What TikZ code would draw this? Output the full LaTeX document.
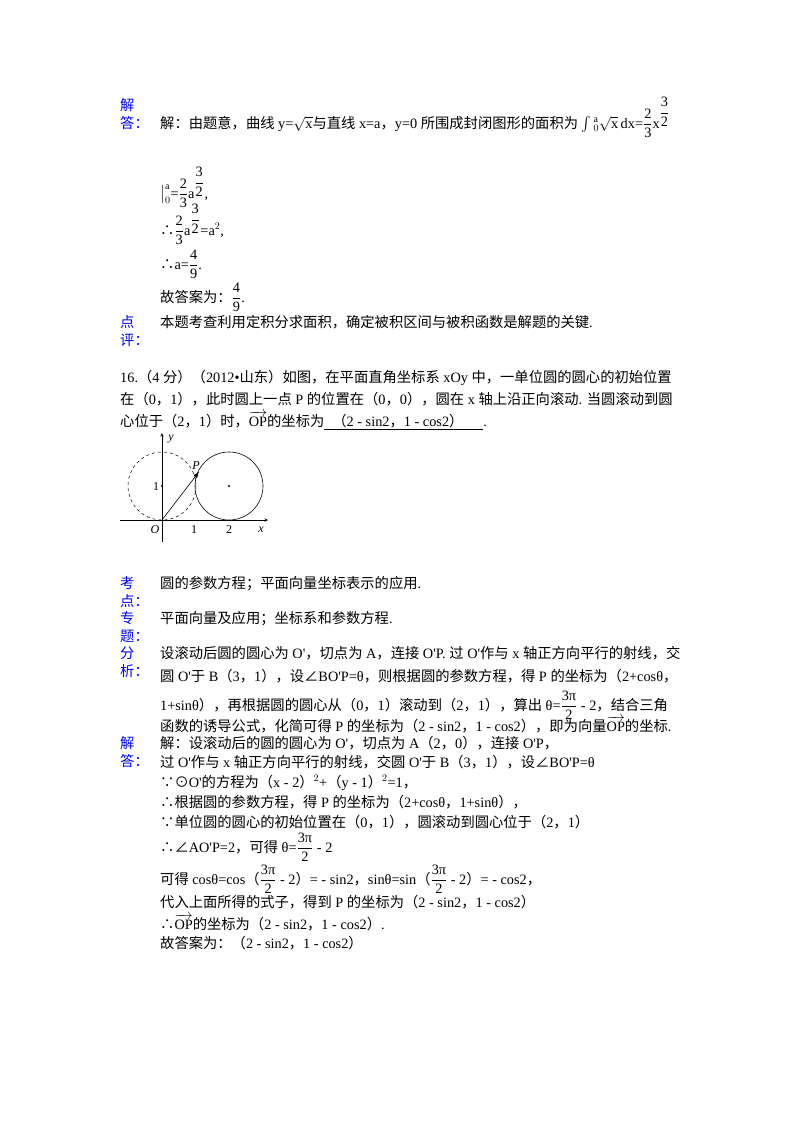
\documentclass[tikz,border=0pt]{standalone}
\usepackage{amsmath}
\usepackage{fontspec}
\usetikzlibrary{arrows.meta}
\setmainfont{Liberation Serif}
\newfontfamily\cjkf{Noto Sans CJK SC}
\newfontfamily\latf{Liberation Serif}
\newXeTeXintercharclass\cjkcls
\makeatletter
\count@="4E00
\loop\XeTeXcharclass\count@=\cjkcls\advance\count@ 1 \ifnum\count@<"A000 \repeat
\count@="3000
\loop\XeTeXcharclass\count@=\cjkcls\advance\count@ 1 \ifnum\count@<"3040 \repeat
\count@="FF00
\loop\XeTeXcharclass\count@=\cjkcls\advance\count@ 1 \ifnum\count@<"FFF0 \repeat
\makeatother
\XeTeXcharclass"2234=\cjkcls
\XeTeXcharclass"2235=\cjkcls
\XeTeXcharclass"2220=\cjkcls
\XeTeXcharclass"2299=\cjkcls
\XeTeXinterchartoks 0 \cjkcls = {\cjkf}
\XeTeXinterchartoks 4095 \cjkcls = {\cjkf}
\XeTeXinterchartoks \cjkcls 0 = {\latf}
\XeTeXinterchartoks \cjkcls 4095 = {\latf}
\XeTeXinterchartokenstate=1
\newcommand\fr[2]{$\genfrac{}{}{0.5pt}{0}{\mbox{#1}}{\mbox{#2}}$}
\newcommand\ex{$^{\raisebox{1pt}{\fr{3}{2}}}$}
\newcommand\vOP{$\overrightarrow{\mbox{OP}}$}
\begin{document}
\begin{tikzpicture}[x=1pt,y=-1pt,
  txt/.style={anchor=base west,inner sep=0pt,font=\fontsize{14.3}{16}\selectfont},
  lab/.style={txt,text=blue},
  ax/.style={-stealth,line width=0.6pt}]
\useasboundingbox (0,0) rectangle (800,1132);
% first answer
\node[lab] (l1) at (120,110) {解};
\node[lab] (l2) at (120,128) {答：};
\node[txt] (t1) at (160,128) {解：由题意，曲线 y=$\sqrt{\mbox{x}}$与直线 x=a，y=0 所围成封闭图形的面积为 $\int$\,$^{\mathrm{a}}_{0}$$\sqrt{\mbox{x}}$\,dx=\fr{2}{3}x\ex};
\node[txt] (t2) at (160,198) {$\big|^{\mathrm{a}}_{0}$=\fr{2}{3}a\ex,};
\node[txt] (t3) at (160,235) {∴\fr{2}{3}a\ex=a$^2$,};
\node[txt] (t4) at (160,269) {∴a=\fr{4}{9}.};
\node[txt] (t5) at (160,302) {故答案为：\fr{4}{9}.};
\node[lab] (l3) at (120,327) {点};
\node[lab] (l4) at (120,345) {评：};
\node[txt] (t6) at (160,327) {本题考查利用定积分求面积，确定被积区间与被积函数是解题的关键.};
% problem 16
\node[txt] (p1) at (120,382) {16.（4 分）（2012•山东）如图，在平面直角坐标系 xOy 中，一单位圆的圆心的初始位置};
\node[txt] (p2) at (120,404) {在（0，1），此时圆上一点 P 的位置在（0，0），圆在 x 轴上沿正向滚动. 当圆滚动到圆};
\node[txt] (p3) at (120,426) {心位于（2，1）时，\vOP{}的坐标为\underline{\hspace{8pt}（2 - sin2，1 - cos2）\hspace{20pt}}.};
% diagram
\coordinate (O) at (162,520);
\draw[ax] (120,520) -- (268,520) node[coordinate] (xe) {};
\draw[ax] (162,542) -- (162,433) node[coordinate] (ye) {};
\draw[dashed,line width=0.5pt] (162,486) circle (34);
\draw[line width=0.6pt] (229,486) circle (34);
\fill (229,486) circle (1.1);
\fill (162,486) circle (1.1);
\coordinate (P) at (199,471.8);
\draw[-{Latex[length=6pt]},line width=0.6pt] (O) -- (P);
\begin{scope}[every node/.style={font=\itshape\fontsize{12}{14}\selectfont,inner sep=1pt}]
\node (ny) at (171,439) {y};
\node (nx) at (261,530) {x};
\node (nO) at (155,530) {O};
\node (nP) at (196,466) {P};
\end{scope}
\node[font=\fontsize{12}{14}\selectfont,inner sep=1pt] (n1) at (194,530) {1};
\node[font=\fontsize{12}{14}\selectfont,inner sep=1pt] (n2) at (229,530) {2};
\node[font=\fontsize{12}{14}\selectfont,inner sep=1pt] (n1y) at (156,487) {1};
% kaodian etc
\node[lab] (k1) at (120,588) {考};
\node[lab] (k2) at (120,606) {点：};
\node[txt] (k3) at (160,588) {圆的参数方程；平面向量坐标表示的应用.};
\node[lab] (z1) at (120,623) {专};
\node[lab] (z2) at (120,641) {题：};
\node[txt] (z3) at (160,623) {平面向量及应用；坐标系和参数方程.};
\node[lab] (f1) at (120,658) {分};
\node[lab] (f2) at (120,676) {析：};
\node[txt] (f3) at (160,658) {设滚动后圆的圆心为 O'，切点为 A，连接 O'P. 过 O'作与 x 轴正方向平行的射线，交};
\node[txt] (f4) at (160,681) {圆 O'于 B（3，1），设∠BO'P=θ，则根据圆的参数方程，得 P 的坐标为（2+cosθ，};
\node[txt] (f5) at (160,710) {1+sinθ），再根据圆的圆心从（0，1）滚动到（2，1），算出 θ=\fr{3π}{2} - 2，结合三角};
\node[txt] (f6) at (160,731) {函数的诱导公式，化简可得 P 的坐标为（2 - sin2，1 - cos2），即为向量\vOP{}的坐标.};
% solution
\node[lab] (j1) at (120,748) {解};
\node[lab] (j2) at (120,766) {答：};
\node[txt] (s1) at (160,748) {解：设滚动后的圆的圆心为 O'，切点为 A（2，0），连接 O'P，};
\node[txt] (s2) at (160,767) {过 O'作与 x 轴正方向平行的射线，交圆 O'于 B（3，1），设∠BO'P=θ};
\node[txt] (s3) at (160,787) {∵⊙O'的方程为（x - 2）$^2$+（y - 1）$^2$=1，};
\node[txt] (s4) at (160,807) {∴根据圆的参数方程，得 P 的坐标为（2+cosθ，1+sinθ），};
\node[txt] (s5) at (160,827) {∵单位圆的圆心的初始位置在（0，1），圆滚动到圆心位于（2，1）};
\node[txt] (s6) at (160,852) {∴∠AO'P=2，可得 θ=\fr{3π}{2} - 2};
\node[txt] (s7) at (160,884) {可得 cosθ=cos（\fr{3π}{2} - 2）= - sin2，sinθ=sin（\fr{3π}{2} - 2）= - cos2，};
\node[txt] (s8) at (160,907) {代入上面所得的式子，得到 P 的坐标为（2 - sin2，1 - cos2）};
\node[txt] (s9) at (160,929) {∴\vOP{}的坐标为（2 - sin2，1 - cos2）.};
\node[txt] (s10) at (160,948) {故答案为：（2 - sin2，1 - cos2）};
\end{tikzpicture}
\end{document}
